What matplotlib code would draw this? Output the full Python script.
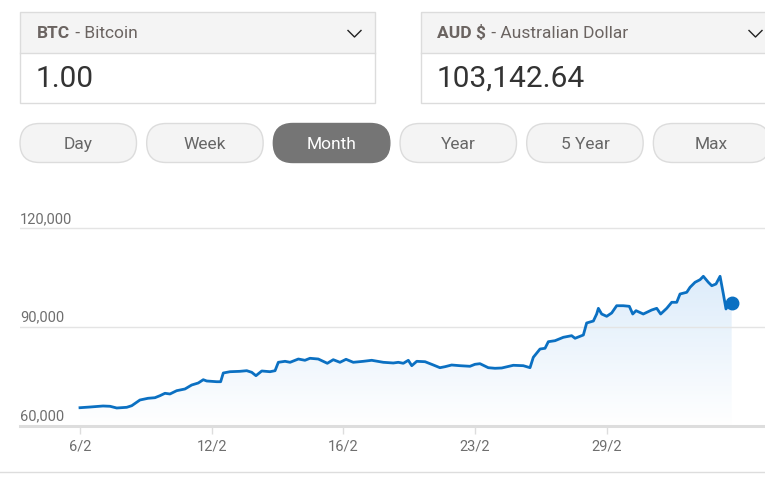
import numpy as np
import matplotlib
matplotlib.use("Agg")
import matplotlib.pyplot as plt
from matplotlib.patches import FancyBboxPatch, Rectangle, Polygon

plt.rcParams["font.family"] = ["Roboto", "DejaVu Sans"]

W, H = 765, 485

# --- data (x in tick-slot units: 0 = 6/2, 1 = 12/2, ... 4 = 29/2) ---
X_LABELS = ["6/2", "12/2", "16/2", "23/2", "29/2"]
Y_TICKS = [60000, 90000, 120000]
POS = [0.0, 0.076, 0.175, 0.228, 0.279, 0.355, 0.393, 0.455, 0.516, 0.569,
       0.607, 0.645, 0.683, 0.734, 0.797, 0.848, 0.898, 0.936, 0.962, 1.038,
       1.068, 1.088, 1.139, 1.215, 1.266, 1.304, 1.336, 1.380, 1.443, 1.481,
       1.506, 1.557, 1.595, 1.658, 1.708, 1.746, 1.809, 1.878, 1.923, 1.974,
       2.020, 2.075, 2.151, 2.215, 2.303, 2.379, 2.417, 2.455, 2.493, 2.519,
       2.557, 2.620, 2.683, 2.733, 2.771, 2.822, 2.885, 2.961, 2.999, 3.037,
       3.100, 3.151, 3.202, 3.290, 3.366, 3.417, 3.442, 3.493, 3.531, 3.556,
       3.607, 3.670, 3.733, 3.759, 3.822, 3.847, 3.898, 3.923, 3.936, 3.961,
       3.999, 4.037, 4.075, 4.125, 4.171, 4.197, 4.222, 4.277, 4.341, 4.379,
       4.409, 4.455, 4.493, 4.531, 4.556, 4.607, 4.632, 4.670, 4.708, 4.733,
       4.771, 4.797, 4.829, 4.860, 4.885, 4.905, 4.923, 4.948]
PRICE = [65470, 65680, 65990, 65900, 65380, 65590, 66080, 67810, 68330, 68510,
         69120, 69850, 69640, 70640, 71160, 72370, 72980, 73980, 73590, 73370,
         73370, 76020, 76410, 76530, 76720, 76230, 75200, 76630, 76410, 76720,
         79270, 79570, 79270, 80270, 79880, 80490, 80270, 78970, 80060, 79270,
         80180, 79270, 79570, 79880, 79270, 79060, 79270, 78970, 79880, 78240,
         79570, 79450, 78450, 77630, 77930, 78450, 78240, 78060, 78660, 78850,
         77630, 77450, 77540, 78360, 78240, 77630, 80790, 83310, 83530, 85530,
         85840, 86870, 87360, 86570, 87570, 91220, 91820, 93950, 95680, 93950,
         93250, 94260, 96470, 96470, 96290, 93950, 94960, 93950, 95170, 95680,
         93950, 95680, 97510, 97510, 100030, 100550, 102070, 103590, 104380, 105410,
         103590, 102550, 103070, 105410, 100030, 95470, 96690, 97300]

FROM_CODE, FROM_NAME, FROM_AMT = "BTC", "Bitcoin", "1.00"
TO_CODE, TO_NAME, TO_AMT = "AUD $", "Australian Dollar", "103,142.64"
RANGES = ["Day", "Week", "Month", "Year", "5 Year", "Max"]
ACTIVE = "Month"

LINE = "#0b70c2"
TXT = "#6b6461"
GRID = "#e4e4e4"

fig = plt.figure(figsize=(W / 100, H / 100), dpi=100)
ui = fig.add_axes([0, 0, 1, 1])
ui.set_xlim(0, W); ui.set_ylim(H, 0); ui.axis("off")


def select_box(x0, x1, code, name, amount):
    ui.add_patch(Rectangle((x0, 12.5), x1 - x0, 41, fc="#f4f4f4", ec="none"))
    ui.add_patch(Rectangle((x0, 12.5), x1 - x0, 91, fc="none", ec="#dcdcdc", lw=1))
    ui.plot([x0, x1], [53.5, 53.5], color="#dcdcdc", lw=1)
    t = ui.text(x0 + 16, 33, code, fontsize=12.5, fontweight="bold", color=TXT, va="center")
    fig.canvas.draw()
    bb = t.get_window_extent()
    xe = bb.x1 * W / fig.bbox.width
    ui.text(xe + 1, 33, " - " + name, fontsize=12.5, color=TXT, va="center")
    ui.text(x0 + 15, 79, amount, fontsize=21.5, color="#333333", va="center")


select_box(20.5, 375.5, FROM_CODE, FROM_NAME, FROM_AMT)
select_box(421.5, 790, TO_CODE, TO_NAME, TO_AMT)
for cx in (354.5, 755.5):
    ui.plot([cx - 6.5, cx, cx + 6.5], [31.5, 38, 31.5], color="#222222", lw=1)

# range buttons
for i, lab in enumerate(RANGES):
    x0 = 20 + i * 126.67
    act = lab == ACTIVE
    ui.add_patch(FancyBboxPatch((x0, 124.5), 116.5, 39,
                                boxstyle="round,pad=0,rounding_size=19.5",
                                fc="#757575" if act else "#f4f4f4",
                                ec="#757575" if act else "#dcdcdc", lw=1))
    ui.text(x0 + 58.3, 145, lab, fontsize=12.5, ha="center", va="center",
            color="white" if act else "#666666")

# bottom separator
ui.plot([0, W], [472.5, 472.5], color="#dddddd", lw=1)

# --- chart ---
px_per = 131.7
x_left, x_right = (20 - 80) / px_per, (W - 80) / px_per
ymin, ymax = 60000, 125000
y_bottom_px = 426.7
h_px = (ymax - ymin) / 30000 * 98.7
ax = fig.add_axes([20 / W, 1 - y_bottom_px / H, (W - 20) / W, h_px / H])
ax.set_xlim(x_left, x_right)
ax.set_ylim(ymin, ymax)
ax.patch.set_alpha(0)
for s in ("top", "right", "left"):
    ax.spines[s].set_visible(False)
ax.spines["bottom"].set_color("#dddddd")
ax.spines["bottom"].set_linewidth(2.2)
ax.set_yticks(Y_TICKS)
ax.yaxis.grid(True, color=GRID, lw=1)
ax.tick_params(axis="y", length=0, labelleft=False)
ax.set_xticks(range(len(X_LABELS)))
ax.set_xticklabels(X_LABELS)
ax.tick_params(axis="x", length=6, width=1, color="#dddddd", labelcolor="#6f6f6f",
               labelsize=10.5, pad=3)
for v in Y_TICKS:
    ax.annotate(f"{v:,}", (0, v), xycoords=("axes fraction", "data"),
                xytext=(0, 2.5), textcoords="offset points", fontsize=10.5,
                color="#6f6f6f", va="bottom", ha="left")

xs = np.array(POS); ys = np.array(PRICE)
grad = np.linspace(0, 1, 256)[:, None]
cmap = matplotlib.colors.LinearSegmentedColormap.from_list("g", ["#ffffff", "#ddecfa"])
im = ax.imshow(grad, cmap=cmap, aspect="auto", origin="lower",
               extent=[xs[0], xs[-1], ymin, ys.max()], zorder=1)
poly = Polygon(np.column_stack([np.r_[xs, xs[-1], xs[0]], np.r_[ys, ymin, ymin]]),
               closed=True, transform=ax.transData, fc="none", ec="none")
ax.add_patch(poly)
im.set_clip_path(poly)
ax.plot(xs, ys, color=LINE, lw=2, zorder=3, solid_joinstyle="round")
ax.plot(xs[-1], ys[-1], "o", color=LINE, ms=9, zorder=4)

fig.savefig("out.png", dpi=100)
